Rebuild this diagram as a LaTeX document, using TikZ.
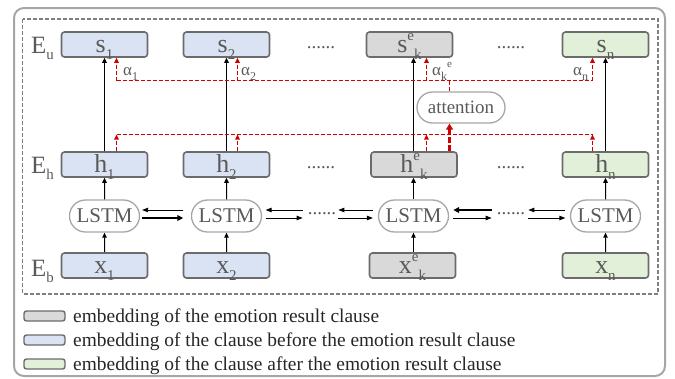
\documentclass[tikz,border=0pt]{standalone}
\usepackage{fontspec}
\setmainfont{Liberation Serif}
\usetikzlibrary{arrows.meta,shapes.misc,calc}

\definecolor{bluefill}{HTML}{DAE3F3}
\definecolor{grayfill}{HTML}{D9D9D9}
\definecolor{greenfill}{HTML}{E2F0D9}
\definecolor{boxline}{HTML}{6B6B6B}
\definecolor{labeltext}{HTML}{595959}
\definecolor{legendtext}{HTML}{262626}
\definecolor{ovalline}{HTML}{A6A6A6}
\definecolor{frameline}{HTML}{A6A6A6}
\definecolor{dashframe}{HTML}{7F7F7F}
\definecolor{attred}{HTML}{D00000}

% index helpers for the clause labels
\newcommand{\lowidx}[1]{\raisebox{-0.28em}{\fontsize{15}{15}\selectfont #1}}
\newcommand{\highidx}[1]{\raisebox{0.45em}{\fontsize{15}{15}\selectfont #1}}
% index helpers for the attention weights
\newcommand{\wlow}[1]{\raisebox{-0.3em}{\fontsize{12}{12}\selectfont #1}}
\newcommand{\whigh}[1]{\raisebox{0.45em}{\fontsize{11}{11}\selectfont #1}}

\tikzset{
  emb/.style={rounded corners=3bp, draw=boxline, line width=1.6bp,
    minimum width=86bp, minimum height=25bp, inner sep=0pt,
    text height=19bp, text depth=4bp,
    text=labeltext, font=\fontsize{26}{26}\selectfont},
  beforeemb/.style={emb, fill=bluefill},
  resultemb/.style={emb, fill=grayfill},
  afteremb/.style={emb, fill=greenfill},
  lstm/.style={rounded rectangle, draw=ovalline, line width=1.3bp, fill=white,
    minimum width=70bp, minimum height=32bp, inner sep=0pt,
    text=labeltext, font=\fontsize{21}{21}\selectfont},
  attn/.style={lstm, minimum width=88bp, minimum height=31bp,
    font=\fontsize{19}{19}\selectfont},
  layer/.style={text=labeltext, font=\fontsize{25}{25}\selectfont,
    inner sep=0pt, anchor=base west},
  weight/.style={text=labeltext, font=\fontsize{17}{17}\selectfont,
    inner sep=0pt, anchor=base west},
  ellip/.style={text=labeltext, font=\fontsize{19}{19}\selectfont,
    inner sep=0pt, anchor=base},
  legbox/.style={rounded corners=2.5bp, draw=boxline, line width=1.4bp,
    minimum width=41bp, minimum height=10bp, inner sep=0pt},
  legtext/.style={text=legendtext, font=\fontsize{19.5}{19.5}\selectfont,
    inner sep=0pt, anchor=base west},
  arr/.style={-{Triangle[length=5bp,width=4.5bp]}, line width=1bp, black},
  thinflow/.style={-{Triangle[length=6bp,width=4.5bp]}, line width=0.9bp, black},
  thickflow/.style={-{Triangle[length=6bp,width=5.5bp]}, line width=1.9bp, black},
  redline/.style={attred, line width=1.2bp, dash pattern=on 4bp off 2bp},
  redarr/.style={redline, -{Triangle[length=5bp,width=4.5bp]}},
  redthick/.style={attred, line width=2.6bp, dash pattern=on 6bp off 2bp,
    -{Triangle[length=6bp,width=7bp]}},
}

\begin{document}
\begin{tikzpicture}[x=1bp,y=-1bp]
\useasboundingbox (0,0) rectangle (675,378);

% frames
\draw[frameline, line width=2bp, rounded corners=10bp] (14,8) rectangle (665,376);
\draw[dashframe, line width=1.2bp, dash pattern=on 4bp off 2bp] (22.5,19) rectangle (658,294);

% layer names
\node[layer] (eu) at (31,53) {E\lowidx{u}};
\node[layer] (eh) at (31,173) {E\lowidx{h}};
\node[layer] (eb) at (31,276) {E\lowidx{b}};

% clause representations
\node[beforeemb] (s1) at (104.5,44.5) {s\lowidx{1}};
\node[beforeemb] (s2) at (226.5,44.5) {s\lowidx{2}};
\node[resultemb] (s3) at (409.5,44.5) {s\highidx{e}\lowidx{k}};
\node[afteremb]  (sn) at (605.5,44.5) {s\lowidx{n}};

\node[beforeemb] (h1) at (104.5,164.5) {h\lowidx{1}};
\node[beforeemb] (h2) at (226.5,164.5) {h\lowidx{2}};
\node[resultemb] (h3) at (414,164.5) {h\highidx{e}\lowidx{k}};
\node[afteremb]  (hn) at (605.5,164.5) {h\lowidx{n}};

\node[lstm] (l1) at (104.5,216) {LSTM};
\node[lstm] (l2) at (226.5,216) {LSTM};
\node[lstm] (l3) at (413.5,216) {LSTM};
\node[lstm] (ln) at (605.5,216) {LSTM};

\node[beforeemb] (x1) at (104.5,265.5) {x\lowidx{1}};
\node[beforeemb] (x2) at (226.5,265.5) {x\lowidx{2}};
\node[resultemb] (x3) at (412.5,265.5) {x\highidx{e}\lowidx{k}};
\node[afteremb]  (xn) at (605.5,265.5) {x\lowidx{n}};

% ellipses between columns
\node[ellip] (ds1) at (321,48.5) {......};
\node[ellip] (ds2) at (511,48.5) {......};
\node[ellip] (dh1) at (321,168.5) {......};
\node[ellip] (dh2) at (511,168.5) {......};
\node[ellip] (dl1) at (322,214.5) {......};
\node[ellip] (dl2) at (511,214.5) {......};

% attention
\node[attn] (att) at (461,107.5) {attention};

% bottom-up flow
\draw[arr] (x1) -- (l1);
\draw[arr] (x2) -- (l2);
\draw[arr] (l3.south |- x3.north) -- (l3.south);
\draw[arr] (xn) -- (ln);

\draw[arr] (l1) -- (h1);
\draw[arr] (l2) -- (h2);
\draw[arr] (l3.north) -- (l3.north |- h3.south);
\draw[arr] (ln) -- (hn);

\draw[arr] (h1) -- (s1);
\draw[arr] (h2) -- (s2);
\draw[arr] (l3.north |- h3.north) -- (l3.north |- s3.south);
\draw[arr] (hn) -- (sn);

% bidirectional recurrence (backward pass above, forward pass below)
\draw[thinflow]  ($(l2.west)+(-7.5,-6)$) -- ($(l1.east)+(2,-6)$);
\draw[thickflow] ($(l1.east)+(2,2)$) -- ($(l2.west)+(-7.5,2)$);

\draw[thinflow]  ($(dl1.west |- l2.east)+(-5,-6)$) -- ($(l2.east)+(3.5,-6)$);
\draw[thinflow]  ($(l2.east)+(3.5,2)$) -- ($(dl1.west |- l2.east)+(-5,2)$);

\draw[thinflow]  ($(l3.west)+(-5,-6)$) -- ($(dl1.east |- l3.west)+(2,-6)$);
\draw[thinflow]  ($(dl1.east |- l3.west)+(2,2)$) -- ($(l3.west)+(-5,2)$);

\draw[thickflow] ($(dl2.west |- l3.east)+(-5,-6)$) -- ($(l3.east)+(4,-6)$);
\draw[thinflow]  ($(l3.east)+(4,2)$) -- ($(dl2.west |- l3.east)+(-5,2)$);

\draw[thinflow]  ($(ln.west)+(-4.5,-6)$) -- ($(dl2.east |- ln.west)+(3,-6)$);
\draw[thinflow]  ($(dl2.east |- ln.west)+(3,2)$) -- ($(ln.west)+(-4.5,2)$);

% attention buses
\coordinate (u1) at (116.5,80.5);
\coordinate (u2) at (237.5,80.5);
\coordinate (u3) at (426.5,80.5);
\coordinate (un) at (592.5,80.5);
\coordinate (ua) at (449.5,80.5);
\coordinate (d1) at (116.5,134.5);
\coordinate (d2) at (237.5,134.5);
\coordinate (d3) at (426.5,134.5);
\coordinate (dn) at (592.5,134.5);

\draw[redline] (u1) -- (un);
\draw[redline] (d1) -- (dn);

\draw[redarr] (d1 |- h1.north) -- (d1);
\draw[redarr] (d2 |- h2.north) -- (d2);
\draw[redarr] (d3 |- h3.north) -- (d3);
\draw[redarr] (dn |- hn.north) -- (dn);

\draw[redthick] (ua |- h3.north) -- (ua |- att.south);
\draw[redline] (ua |- att.north) -- (ua);

\draw[redarr] (u1) -- (u1 |- s1.south);
\draw[redarr] (u2) -- (u2 |- s2.south);
\draw[redarr] (u3) -- (u3 |- s3.south);
\draw[redarr] (un) -- (un |- sn.south);

% attention weights
\node[weight] (a1) at (123,75) {α\wlow{1}};
\node[weight] (a2) at (241,75) {α\wlow{2}};
\node[weight] (a3) at (432,75) {α\wlow{k}\whigh{e}};
\node[weight] (an) at (573,75) {α\wlow{n}};

% legend
\node[legbox, fill=grayfill]  (lg1) at (44.5,316) {};
\node[legbox, fill=bluefill]  (lg2) at (44.5,340) {};
\node[legbox, fill=greenfill] (lg3) at (44.5,364) {};
\node[legtext] (lt1) at (73,322) {embedding of the emotion result clause};
\node[legtext] (lt2) at (73,346) {embedding of the clause before the emotion result clause};
\node[legtext] (lt3) at (73,370) {embedding of the clause after the emotion result clause};
\end{tikzpicture}
\end{document}
